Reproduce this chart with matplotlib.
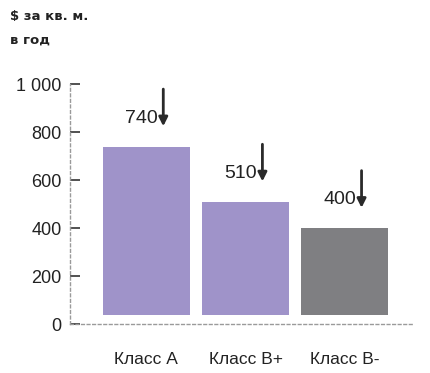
import matplotlib.pyplot as plt

classes = ["Класс А", "Класс В+", "Класс В-"]
rents = [740, 510, 400]
colors = ["#9f93c9", "#9f93c9", "#7f7f82"]
yticks = [0, 200, 400, 600, 800, 1000]
ytick_labels = ["0", "200", "400", "600", "800", "1 000"]

# narrow font if present, otherwise the regular one
plt.rcParams["font.family"] = ["Liberation Sans Narrow", "Liberation Sans", "DejaVu Sans"]

fig = plt.figure(figsize=(4.3, 3.73), dpi=100)
ax = fig.add_axes([0.163, 0.131, 0.80, 0.643])

base = 40
x = range(len(rents))
ax.bar(x, [r - base for r in rents], bottom=base, width=0.88, color=colors)

for i, r in enumerate(rents):
    ax.annotate("", xy=(i + 0.17, r + 85), xytext=(i + 0.17, r + 240),
                arrowprops=dict(arrowstyle="-|>", color="#2a2a2a", lw=2,
                                mutation_scale=13, shrinkA=0, shrinkB=0))
    ax.text(i + 0.115, r + 118, str(r), ha="right", va="center",
            fontsize=14, color="#222222")

ax.set_xlim(-0.77, 2.70)
ax.set_ylim(0, 1000)
ax.set_yticks(yticks)
ax.set_yticklabels(ytick_labels, fontsize=13, color="#222222")
ax.set_xticks(list(x))
ax.set_xticklabels(classes, fontsize=12.5, color="#222222")
ax.tick_params(axis="y", direction="in", length=7, width=1.2, color="#333333", pad=6)
ax.tick_params(axis="x", length=0, pad=20)

for s in ["top", "right"]:
    ax.spines[s].set_visible(False)
for s in ["left", "bottom"]:
    ax.spines[s].set_linestyle((0, (2, 2)))
    ax.spines[s].set_color("#9a9a9a")
    ax.spines[s].set_linewidth(1)

fig.text(0.023, 0.955, "\\$ за кв. м.", fontsize=9.5, fontweight="bold",
         color="#222222", va="center", family=["DejaVu Sans"])
fig.text(0.023, 0.893, "в год", fontsize=9.5, fontweight="bold",
         color="#222222", va="center", family=["DejaVu Sans"])

fig.savefig("out.png", dpi=100)
